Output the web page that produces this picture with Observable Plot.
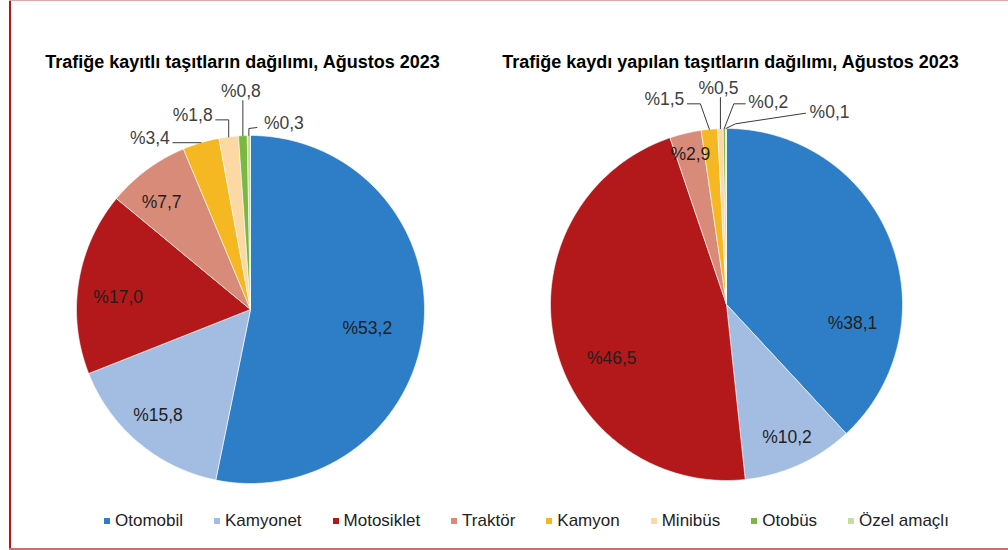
<!DOCTYPE html>
<html>
<head>
<meta charset="utf-8">
<script src="https://cdn.jsdelivr.net/npm/d3@7"></script>
<script src="https://cdn.jsdelivr.net/npm/@observablehq/plot@0.6"></script>
<style>
  html, body { margin: 0; padding: 0; background: #fff; }
  #frame { position: relative; width: 1008px; height: 550px; overflow: hidden; background: #fff;
           font-family: "Liberation Sans", Arial, sans-serif; }
  #frame .bl { position: absolute; left: 9px; top: 0; width: 2px; height: 550px; background: #b31818; }
  #frame .bt { position: absolute; left: 9px; top: 0; width: 999px; height: 1px; background: #dfa6a6; }
  #frame .bb { position: absolute; left: 9px; top: 548px; width: 999px; height: 2px; background: #c87070; }
  #p1 { position: absolute; left: 0; top: 0; }
  #p2 { position: absolute; left: 504px; top: 0; }
  #legend { position: absolute; left: 104px; top: 504px; }
  #legend .lg-swatch { margin-right: 31px; }
  #legend .lg-swatch > svg { margin-right: 5px; }
  g[aria-label="title"] text { letter-spacing: 0.7px; }
</style>
</head>
<body>
<div id="frame">
  <div id="p1"></div>
  <div id="p2"></div>
  <div id="legend"></div>
  <div class="bl"></div><div class="bt"></div><div class="bb"></div>
</div>
<script>
// ---- data ----
const categories = ["Otomobil", "Kamyonet", "Motosiklet", "Traktör", "Kamyon", "Minibüs", "Otobüs", "Özel amaçlı"];
const colors = ["#2e7ec7", "#a3bde2", "#b3191b", "#d98b79", "#f5b822", "#fcd8a2", "#7ab843", "#c6dea0"];
const registeredShares = [53.2, 15.8, 17.0, 7.7, 3.4, 1.8, 0.8, 0.3];
const newRegistrationShares = [38.1, 10.2, 46.5, 2.9, 1.5, 0.5, 0.2, 0.1];
const chartTitles = [
  "Trafiğe kayıtlı taşıtların dağılımı, Ağustos 2023",
  "Trafiğe kaydı yapılan taşıtların dağılımı, Ağustos 2023"
];

// ---- layout (pixels) ----
const layouts = [
  {
    width: 504, height: 500, cx: 250, cy: 309, r: 174, titleX: 242, titleY: 55,
    inside: {"Otomobil": [0.675, 0, 7], "Kamyonet": [0.81, -2, -2], "Motosiklet": [0.77, 0, 9], "Traktör": [0.80, -6, 5]},
    outside: {
      "Kamyon": {label: [-51, -4], path: [[-28, 0]]},
      "Minibüs": {label: [-36, -21], path: [[0, -17], [-13, -17]]},
      "Otobüs": {label: [-2, -44], path: [[0, -35]]},
      "Özel amaçlı": {label: [35, -12], path: [[0, -7], [8, -8]]}
    }
  },
  {
    width: 504, height: 500, cx: 222, cy: 304, r: 176, titleX: 226, titleY: 55,
    inside: {"Otomobil": [0.72, 8, 65], "Kamyonet": [0.83, 0, 0], "Motosiklet": [0.72, 9, 27], "Traktör": [0.88, 0, 0]},
    outside: {
      "Kamyon": {label: [-45, -30], path: [[-9, -25.5], [-22, -25.5]]},
      "Minibüs": {label: [-2, -40], path: [[0, -31]]},
      "Otobüs": {label: [44, -26], path: [[9.5, -24.7], [21, -24.7]]},
      "Özel amaçlı": {label: [103.6, -16], path: [[9.6, -4.7], [79.6, -15.3]]}
    }
  }
];

const fontFamily = '"Liberation Sans", Arial, sans-serif';
const fmt = v => "%" + d3.format(".1f")(v).replace(".", ",");

function slicesFor(values) {
  const total = d3.sum(values);
  let cum = 0;
  return categories.map((c, i) => {
    const a0 = cum / total * 2 * Math.PI;
    cum += values[i];
    const a1 = cum / total * 2 * Math.PI;
    return {category: c, value: values[i], a0, a1, mid: (a0 + a1) / 2};
  });
}

function pie(values, title, L) {
  const slices = slicesFor(values);
  const R = L.r;
  // slice outlines in unit-circle data space (clockwise from 12 o'clock)
  const pts = [];
  for (const s of slices) {
    pts.push({category: s.category, x: 0, y: 0});
    const n = Math.max(2, Math.ceil((s.a1 - s.a0) / (Math.PI / 360)));
    for (let k = 0; k <= n; k++) {
      const t = s.a0 + (s.a1 - s.a0) * k / n;
      pts.push({category: s.category, x: Math.sin(t), y: Math.cos(t)});
    }
    pts.push({category: s.category, x: 0, y: 0});
  }
  const inside = slices.filter(s => L.inside[s.category]).map(s => {
    const [f, dx, dy] = L.inside[s.category];
    return {category: s.category, text: fmt(s.value),
            x: Math.sin(s.mid) * f + dx / R, y: Math.cos(s.mid) * f - dy / R};
  });
  const outside = [], leaders = [];
  for (const s of slices) {
    const o = L.outside[s.category];
    if (!o) continue;
    const px = Math.sin(s.mid), py = Math.cos(s.mid);
    outside.push({category: s.category, text: fmt(s.value), x: px + o.label[0] / R, y: py - o.label[1] / R});
    leaders.push({category: s.category, x: px, y: py});
    for (const [dx, dy] of o.path) leaders.push({category: s.category, x: px + dx / R, y: py - dy / R});
  }
  return Plot.plot({
    width: L.width, height: L.height,
    marginLeft: L.cx - R, marginRight: L.width - L.cx - R,
    marginTop: L.cy - R, marginBottom: L.height - L.cy - R,
    x: {domain: [-1, 1], axis: null},
    y: {domain: [-1, 1], axis: null},
    color: {domain: categories, range: colors},
    style: {fontFamily, background: "transparent", overflow: "visible"},
    marks: [
      Plot.line(pts, {x: "x", y: "y", z: "category", fill: "category", stroke: "white", strokeWidth: 0.6, strokeLinejoin: "round"}),
      Plot.line(leaders, {x: "x", y: "y", z: "category", stroke: "#3a3a3a", strokeWidth: 1}),
      Plot.text(inside, {x: "x", y: "y", text: "text", fontSize: 17.5, fill: "#1f1f1f"}),
      Plot.text(outside, {x: "x", y: "y", text: "text", fontSize: 17.5, fill: "#404040"}),
      Plot.text([title], {frameAnchor: "top", text: d => d, dx: L.titleX - L.cx, dy: L.titleY - (L.cy - R),
                          fontSize: 18, fontWeight: "bold", fill: "#000", ariaLabel: "title"})
    ]
  });
}

document.getElementById("p1").append(pie(registeredShares, chartTitles[0], layouts[0]));
document.getElementById("p2").append(pie(newRegistrationShares, chartTitles[1], layouts[1]));

document.getElementById("legend").append(Plot.legend({
  color: {domain: categories, range: colors},
  legend: "swatches",
  swatchSize: 6,
  className: "lg",
  style: {fontFamily, fontSize: "17px", color: "#222", margin: 0}
}));
</script>
</body>
</html>
